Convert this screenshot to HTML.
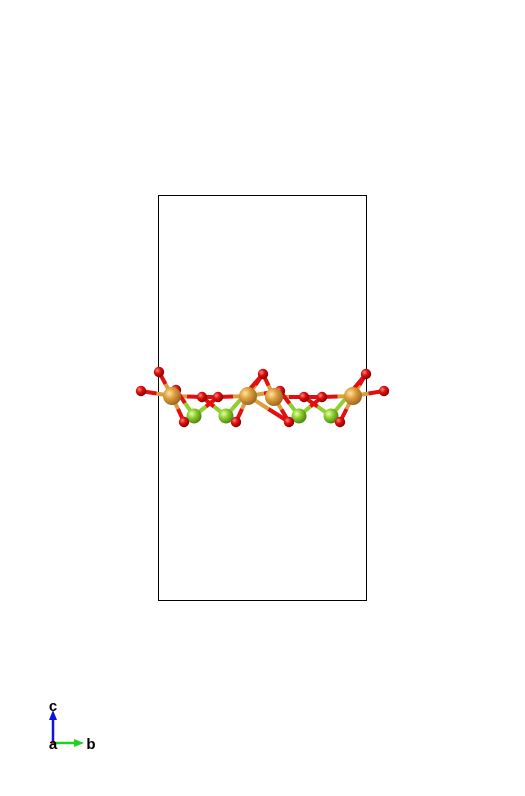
<!DOCTYPE html>
<html><head><meta charset="utf-8"><style>
html,body{margin:0;padding:0;background:#fff;width:525px;height:796px;overflow:hidden}
svg{display:block}
</style></head><body>
<svg id="s" width="525" height="796">
<defs>
<radialGradient id="gO" cx="35%" cy="35%" r="65%"><stop offset="0" stop-color="#ff8a80"/><stop offset=".45" stop-color="#e01010"/><stop offset="1" stop-color="#900000"/></radialGradient>
<radialGradient id="gT" cx="35%" cy="35%" r="65%"><stop offset="0" stop-color="#ffe6a0"/><stop offset=".45" stop-color="#e0a040"/><stop offset="1" stop-color="#a06a20"/></radialGradient>
<radialGradient id="gG" cx="35%" cy="35%" r="65%"><stop offset="0" stop-color="#e8ffb0"/><stop offset=".45" stop-color="#8fd030"/><stop offset="1" stop-color="#4f8a10"/></radialGradient>
</defs>
<rect x="158.5" y="195.5" width="208" height="405" fill="none" stroke="#000" stroke-width="1"/>
<g id="bonds"></g><g id="atoms"></g>
<g>
<line x1="53" y1="743" x2="53" y2="718" stroke="#1010e0" stroke-width="2.5"/>
<polygon points="53,710 49,720 57,720" fill="#1010e0"/>
<line x1="53" y1="743" x2="76" y2="743" stroke="#20d020" stroke-width="2.5"/>
<polygon points="84,743 74,739 74,747" fill="#20d020"/>
<circle cx="53" cy="743" r="2" fill="#e02020"/>
<text x="53" y="711" font-family="Liberation Sans, sans-serif" font-size="15" font-weight="bold" text-anchor="middle">c</text>
<text x="53" y="749" font-family="Liberation Sans, sans-serif" font-size="15" font-weight="bold" text-anchor="middle">a</text>
<text x="91" y="749" font-family="Liberation Sans, sans-serif" font-size="15" font-weight="bold" text-anchor="middle">b</text>
</g>
</svg>
<script>
const ns="http://www.w3.org/2000/svg";
const types=["T","T","T","T","G","G","G","G","O","O","O","O","O","O","O","O","O","O","O","O","O","O","O","O"];
const xs=[172,248,274,353,194,226,299,331,159,141,176,202,218,263,280,304,322,366,384,184,236,289,340,0];
const ys=[396,396,397,396,416,416,416,416,372,391,390,397,397,374,391,397,397,374,391,422,422,422,422,0];
const bonds=[[0,8],[0,9],[0,10],[0,11],[0,19],[1,12],[1,13],[1,21],[1,20],[1,14],[2,13],[2,14],[2,15],[2,21],[3,16],[3,17],[3,18],[3,22],[4,10],[4,12],[4,19],[5,11],[5,20],[5,13],[6,14],[6,16],[6,21],[7,15],[7,22],[7,17],[11,12],[15,16]];
const col={T:"#d9a040",G:"#8fd030",O:"#e01010"},rad={T:9,G:7.5,O:5.2},gr={T:"url(#gT)",G:"url(#gG)",O:"url(#gO)"};
const bg=document.getElementById("bonds"),ag=document.getElementById("atoms");
bonds.forEach(([a,b])=>{const mx=(xs[a]+xs[b])/2,my=(ys[a]+ys[b])/2;
[[a,mx,my],[b,mx,my]].forEach(([i,x,y])=>{const l=document.createElementNS(ns,"line");
l.setAttribute("x1",xs[i]);l.setAttribute("y1",ys[i]);l.setAttribute("x2",x);l.setAttribute("y2",y);
l.setAttribute("stroke",col[types[i]]);l.setAttribute("stroke-width","4");


bg.appendChild(l);});});
const order=[...Array(23).keys()].sort((a,b)=>ys[a]-ys[b]);
order.forEach(i=>{const c=document.createElementNS(ns,"circle");
c.setAttribute("cx",xs[i]);c.setAttribute("cy",ys[i]);c.setAttribute("r",rad[types[i]]);c.setAttribute("fill",gr[types[i]]);


ag.appendChild(c);});
</script>
</body></html>
